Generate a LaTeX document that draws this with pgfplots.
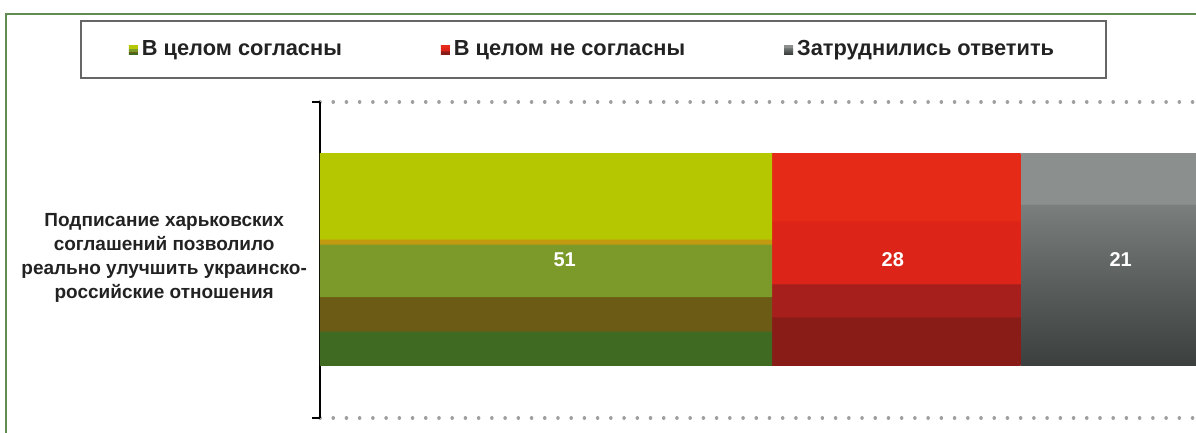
\documentclass[border=0pt]{standalone}
\usepackage{pgfplots}
\pgfplotsset{compat=1.18}
\usepackage{fontspec}
\setmainfont{Liberation Sans}

\definecolor{gA}{HTML}{B4C700}
\definecolor{gO}{HTML}{C29A10}
\definecolor{gB}{HTML}{7B9A2A}
\definecolor{gC}{HTML}{6C5B14}
\definecolor{gD}{HTML}{3E6A21}
\definecolor{rA}{HTML}{E52A17}
\definecolor{rB}{HTML}{DC2418}
\definecolor{rC}{HTML}{A71F1C}
\definecolor{rD}{HTML}{8A1C18}
\definecolor{kA}{HTML}{8B8F8D}
\definecolor{kB}{HTML}{7A7E7C}
\definecolor{kC}{HTML}{5B5F5E}
\definecolor{kD}{HTML}{3B3F3E}
\definecolor{frameGreen}{HTML}{5E8E53}
\definecolor{txt}{HTML}{222222}

\pgfdeclareverticalshading{greenbar}{100bp}{color(0bp)=(gD); color(33.2bp)=(gD); color(33.3bp)=(gC); color(41.3bp)=(gC); color(41.4bp)=(gB); color(53.7bp)=(gB); color(53.8bp)=(gO); color(54.9bp)=(gO); color(55bp)=(gA); color(100bp)=(gA)}
\pgfdeclareverticalshading{redbar}{100bp}{color(0bp)=(rD); color(36.5bp)=(rD); color(36.7bp)=(rC); color(44.3bp)=(rC); color(44.5bp)=(rB); color(59.1bp)=(rB); color(59.3bp)=(rA); color(100bp)=(rA)}
\pgfdeclareverticalshading{graybar}{100bp}{color(0bp)=(kD); color(25bp)=(kD); color(45bp)=(kC); color(63bp)=(kB); color(63.3bp)=(kA); color(100bp)=(kA)}

\begin{document}
\begin{tikzpicture}
\pgfplotsset{
  common/.style={
    at={(160pt,-209pt)}, anchor=south west,
    scale only axis, width=438pt, height=158pt,
    xmin=0, xmax=98.8, ymin=-1, ymax=1,
  },
}
\begin{axis}[
  common,
  xbar stacked, bar width=106pt,
  axis x line=none,
  axis y line*=left,
  y axis line style={line width=1.3pt, black},
  ytick={-1,1}, yticklabels={},
  tick align=outside, major tick length=4pt,
  ytick style={line width=1.3pt, black},
  ymajorgrids,
  grid style={gray!75, line width=1.8pt, dash pattern=on 0.01pt off 6.6pt, line cap=round},
  extra y ticks={0},
  extra y tick labels={{Подписание харьковских\\соглашений позволило\\реально улучшить украинско-\\российские отношения}},
  extra y tick style={major tick length=0pt, grid=none,
    yticklabel style={align=center, xshift=-3pt, yshift=1pt, text=txt, font=\bfseries\fontsize{9.5}{12}\selectfont}},
  legend columns=3,
  legend image code/.code={\fill[#1, draw=none] (0pt,-2.25pt) rectangle (4.5pt,2.25pt);},
  legend style={at={(axis description cs:0.3122,1.166)}, anchor=center,
    draw=gray!80!black, line width=1pt, inner xsep=24pt, inner ysep=7.5pt,
    font=\bfseries\fontsize{10.9}{13}\selectfont, text=txt,
    /tikz/every even column/.append style={column sep=47.5pt}},
]
\addplot[draw=none, shading=greenbar] coordinates {(51,0)};
\addplot[draw=none, shading=redbar] coordinates {(28,0)};
\addplot[draw=none, shading=graybar] coordinates {(21,0)};
\legend{В целом согласны, В целом не согласны, Затруднились ответить}
\end{axis}
\begin{axis}[
  common, hide axis,
  every node near coord/.append style={anchor=center, text=white, font=\bfseries\fontsize{10}{12}\selectfont},
]
\addplot[only marks, mark=none, nodes near coords, point meta=explicit symbolic]
  coordinates {(27.6,0) [51] (64.6,0) [28] (90.3,0) [21]};
\end{axis}
\draw[frameGreen, line width=1pt] (2.75pt,-7.25pt) rectangle (630pt,-240pt);
\pgfresetboundingbox
\useasboundingbox (0pt,0pt) rectangle (598pt,-216.5pt);
\end{tikzpicture}
\end{document}
